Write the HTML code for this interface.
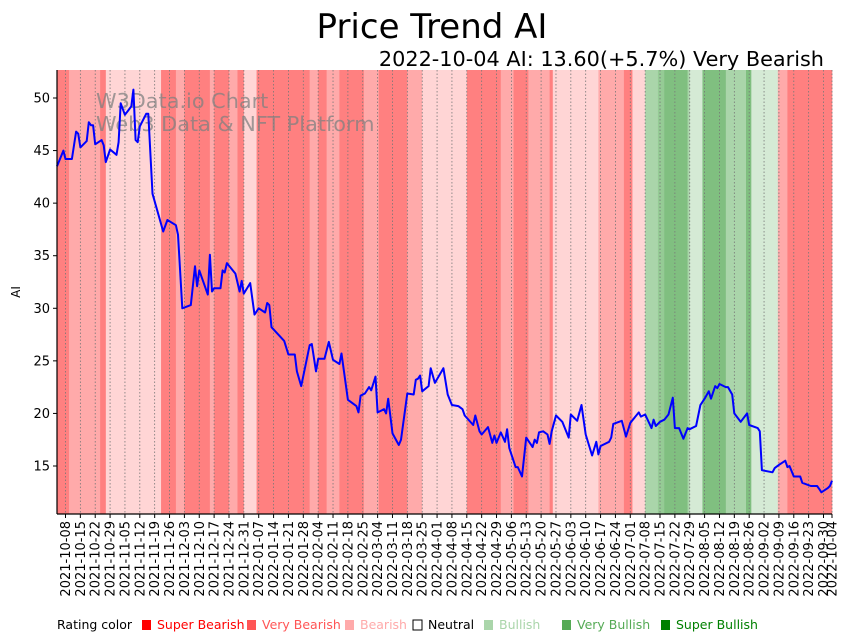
<!DOCTYPE html>
<html><head><meta charset="utf-8"><style>
html,body{margin:0;padding:0;background:#fff;}
svg{display:block;font-family:"DejaVu Sans","Liberation Sans",sans-serif;}
</style></head><body>
<svg id="chart" width="851" height="641" viewBox="0 0 851 641" xmlns="http://www.w3.org/2000/svg">
<text x="432" y="38" font-size="34" text-anchor="middle" fill="#000">Price Trend AI</text>
<text x="824" y="66" font-size="20.8" text-anchor="end" fill="#000">2022-10-04 AI: 13.60(+5.7%) Very Bearish</text>
<g id="bands"></g>
<g id="grid"></g>
<text x="96" y="108" font-size="20.8" fill="#808080" fill-opacity="0.75">W3Data.io Chart</text>
<text x="96" y="131" font-size="20.8" fill="#808080" fill-opacity="0.75">Web3 Data &amp; NFT Platform</text>
<path id="line" fill="none" stroke="#0000ff" stroke-width="2" stroke-linejoin="round"/>
<g id="axes"></g>
<text transform="translate(20,292) rotate(-90)" font-size="12" text-anchor="middle">AI</text>
<g id="legend"></g>
</svg>
<script>
const bandStarts = [0,5.7,20.3,23,49,56,60,72,74,81,85,88,94,119,123,127,133,144.5,151.5,165,172,193,209,215,222,232,233.5,255,267,271,277,283,286,297,298,304,315,324.5,327,339.5,344];
const bandEnds   = [5.7,20.3,23,49,56,60,72,74,81,85,88,94,119,123,127,133,144.5,151.5,165,172,193,209,215,222,232,233.5,255,267,271,277,283,286,297,298,304,315,324.5,327,339.5,344,365];
const bandRatings = ['VB','B','VB','L','VB','B','VB','B','VB','B','VB','L','VB','B','VB','B','VB','B','VB','B','L','VB','B','VB','B','VB','L','B','VB','L','G','G2','DG','G','LG','DG','G','DG','LG','B','VB'];
const days = [0,3,4,7,9,10,11,14,15,16,17,18,21,22,23,25,28,29,30,32,35,36,37,38,39,42,43,45,50,52,56,57,59,63,65,66,67,71,72,73,74,77,78,79,80,84,86,87,88,91,93,95,98,99,100,101,107,109,112,113,115,119,120,122,123,126,128,130,133,134,137,141,142,143,145,147,148,150,151,154,155,156,158,161,162,165,168,169,170,171,172,175,176,178,182,184,186,189,191,192,196,197,199,200,203,205,206,207,209,211,212,213,216,217,219,221,224,225,226,227,229,231,232,233,235,238,241,242,245,247,249,252,254,255,256,260,261,262,266,268,270,274,275,277,280,281,282,284,286,288,290,291,293,295,297,298,301,303,305,307,308,310,311,312,315,316,318,319,322,325,326,330,331,332,337,338,340,343,344,345,347,350,351,355,358,359,360,363,364,365];
const values = [43.5,45.0,44.2,44.2,46.8,46.6,45.3,45.9,47.7,47.4,47.4,45.6,46.0,45.5,43.9,45.1,44.6,45.8,49.5,48.4,49.2,50.8,46.0,45.8,47.3,48.5,48.5,40.9,37.3,38.4,37.9,37.0,30.0,30.3,34.0,32.1,33.6,31.3,35.1,31.6,31.9,31.9,33.6,33.4,34.3,33.3,31.6,32.6,31.4,32.4,29.4,30.0,29.6,30.5,30.3,28.2,26.9,25.6,25.6,24.0,22.6,26.5,26.6,24.0,25.2,25.2,26.8,25.1,24.7,25.7,21.3,20.7,20.1,21.7,21.9,22.5,22.2,23.5,20.1,20.4,20.0,21.4,18.1,17.0,17.5,21.9,21.8,23.2,23.3,23.6,22.1,22.6,24.3,22.9,24.3,21.8,20.8,20.7,20.4,19.8,18.9,19.8,18.3,18.0,18.7,17.2,17.9,17.2,18.2,17.3,18.5,16.7,14.9,14.9,14.0,17.7,16.8,17.5,17.2,18.2,18.3,18.0,17.1,18.3,19.8,19.2,17.7,19.9,19.3,20.8,18.0,16.0,17.3,16.1,16.9,17.3,17.7,19.0,19.3,17.8,19.1,20.1,19.7,19.9,18.6,19.4,18.8,19.2,19.4,19.9,21.5,18.6,18.6,17.6,18.6,18.5,18.8,20.8,21.4,22.1,21.4,22.6,22.4,22.8,22.5,22.5,21.8,20.0,19.2,20.0,18.9,18.6,18.3,14.6,14.4,14.8,15.1,15.5,14.9,15.0,14.0,14.0,13.4,13.1,13.1,12.8,12.5,12.9,13.1,13.6];
const yTicks = [15,20,25,30,35,40,45,50];
const startDate = Date.UTC(2021,9,4);

const NS='http://www.w3.org/2000/svg';
const X0=57,X1=832,Y0=70,Y1=514;
const xs = d => X0 + d*(X1-X0)/365;
const ys = v => 98 + (50-v)*(466-98)/35;
const colors = {VB:'#ff8080',B:'#ffaaaa',L:'#ffd5d5',G:'#aad5aa',G2:'#95cb95',DG:'#80bf80',LG:'#d5ead5'};
function mk(tag, attrs, parent){const e=document.createElementNS(NS,tag);for(const k in attrs)e.setAttribute(k,attrs[k]);parent.appendChild(e);return e;}

const bands=document.getElementById('bands');
for(let i=0;i<bandStarts.length;i++){
  const r=mk('rect',{x:xs(bandStarts[i]),y:Y0,width:xs(bandEnds[i])-xs(bandStarts[i])+0.3,height:Y1-Y0,fill:colors[bandRatings[i]]},bands);
  
  
}
const tickDays=[];for(let d=4;d<=361;d+=7)tickDays.push(d);tickDays.push(365);
const fmt=d=>new Date(startDate+d*86400000).toISOString().slice(0,10);
const grid=document.getElementById('grid'), axes=document.getElementById('axes');
tickDays.forEach(d=>{
  const x=xs(d);
  const g=mk('line',{x1:x,x2:x,y1:Y0,y2:Y1,stroke:'#777','stroke-width':0.8,'stroke-dasharray':'1.5,2'},grid);
  
  
  mk('line',{x1:x,x2:x,y1:Y1,y2:Y1+4,stroke:'#000','stroke-width':1},axes);
  const t=mk('text',{transform:`translate(${x+4.5},${Y1+7}) rotate(-90)`,'font-size':13,'text-anchor':'end'},axes);
  t.textContent=fmt(d);
  
  
});
yTicks.forEach(v=>{
  const y=ys(v);
  mk('line',{x1:X0-4,x2:X0,y1:y,y2:y,stroke:'#000','stroke-width':1},axes);
  const t=mk('text',{x:X0-7,y:y+4.5,'font-size':13,'text-anchor':'end'},axes);
  t.textContent=v;
  
  
});
mk('line',{x1:X0,x2:X0,y1:Y0,y2:Y1,stroke:'#000','stroke-width':1.2},axes);
mk('line',{x1:X0,x2:X1,y1:Y1,y2:Y1,stroke:'#000','stroke-width':1.2},axes);
document.getElementById('line').setAttribute('d',days.map((d,i)=>(i?'L':'M')+xs(d).toFixed(1)+','+ys(values[i]).toFixed(1)).join(''));

const leg=document.getElementById('legend');
const lt=mk('text',{x:57,y:629,'font-size':12.5,fill:'#000'},leg);lt.textContent='Rating color';
const items=[['Super Bearish','#ff0000','#ff0000',142],['Very Bearish','#ff5555','#ff5555',247],['Bearish','#ffaaaa','#ffaaaa',345],['Neutral','none','#000',413],['Bullish','#aad5aa','#aad5aa',484],['Very Bullish','#55aa55','#55aa55',562],['Super Bullish','#008000','#008000',661]];
items.forEach(it=>{
  const g=mk('g',{},leg);
  
  
  mk('rect',{x:it[3],y:620,width:9,height:10,fill:it[1],stroke:it[1]==='none'?'#000':'none','stroke-width':1},g);
  const t=mk('text',{x:it[3]+15,y:629,'font-size':12.5,fill:it[2]},g);t.textContent=it[0];
});
</script>
</body></html>
